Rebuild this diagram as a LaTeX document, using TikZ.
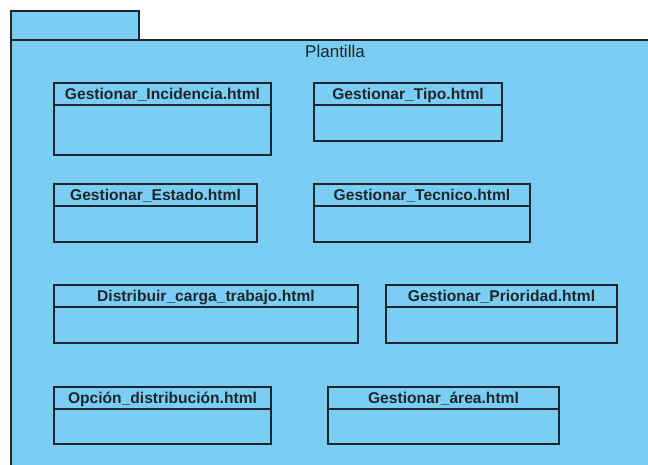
\documentclass[tikz,border=0pt]{standalone}
\usepackage{fontspec}
\setmainfont{Liberation Sans}
\definecolor{pkgfill}{RGB}{122,206,244}
\definecolor{edge}{RGB}{30,38,44}
\tikzset{
  pkgshape/.style={draw=edge, line width=1.3pt, fill=pkgfill},
  classbox/.style={draw=edge, line width=1.3pt, fill=pkgfill, rectangle,
    inner sep=0pt, outer sep=0pt, anchor=north west},
  classhead/.style={draw=edge, line width=1.3pt, rectangle, inner sep=0pt,
    outer sep=0pt, anchor=north west, minimum height=22pt,
    text height=11.5pt, text depth=0.5pt,
    font=\fontsize{15.6}{18}\selectfont\bfseries, text=edge},
  pkglabel/.style={font=\fontsize{17}{20}\selectfont, text=edge}
}
% \umlclass{name}{left}{top}{right}{bottom}{title}
\newcommand{\umlclass}[6]{%
  \pgfmathsetmacro{\cw}{#4-#2}%
  \pgfmathsetmacro{\ch}{#5-#3}%
  \node[classbox, minimum width=\cw pt, minimum height=\ch pt] (#1) at (#2,#3) {};
  \node[classhead, minimum width=\cw pt] (#1-head) at (#2,#3) {#6};
}
\begin{document}
\begin{tikzpicture}[x=1pt,y=-1pt]
  \useasboundingbox (0,0) rectangle (648,464);
  \fill[white] (0,0) rectangle (648,464);
  % package tab and body
  \draw[pkgshape] (11,11) rectangle (139,40);
  \draw[pkgshape] (11,40) rectangle (660,475);
  \node[pkglabel] (pkgname) at (335,51.5) {Plantilla};
  % pages of the package
  \umlclass{inc}{54}{83}{271}{155}{Gestionar\_Incidencia.html}
  \umlclass{tipo}{314}{83}{502}{141}{Gestionar\_Tipo.html}
  \umlclass{estado}{54}{184}{257}{242}{Gestionar\_Estado.html}
  \umlclass{tecnico}{314}{184}{530}{242}{Gestionar\_Tecnico.html}
  \umlclass{carga}{54}{285}{358}{343}{Distribuir\_carga\_trabajo.html}
  \umlclass{prioridad}{386}{285}{617}{343}{Gestionar\_Prioridad.html}
  \umlclass{opcion}{54}{387}{271}{444}{Opción\_distribución.html}
  \umlclass{area}{328}{387}{559}{444}{Gestionar\_área.html}
\end{tikzpicture}
\end{document}
